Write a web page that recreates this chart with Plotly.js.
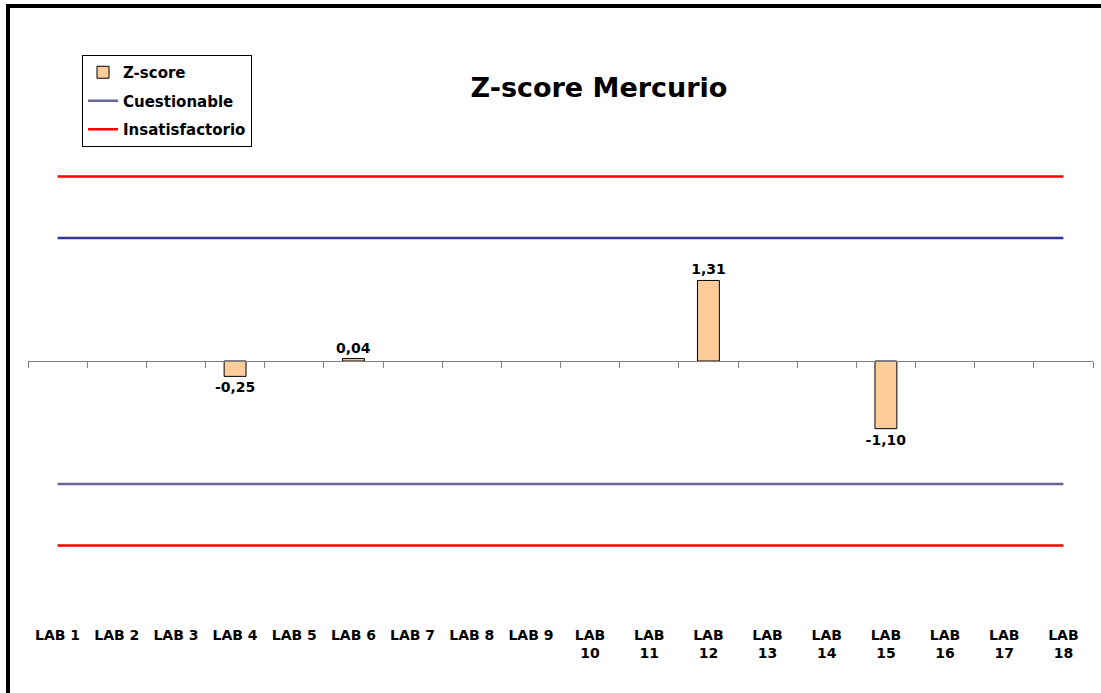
<!DOCTYPE html>
<html>
<head>
<meta charset="utf-8">
<script src="https://cdn.plot.ly/plotly-3.0.1.min.js"></script>
<style>html,body{margin:0;padding:0;background:#fff;overflow:hidden;}#chart{width:1101px;height:693px;}</style>
</head>
<body>
<div id="chart"></div>
<script>
// ---- data ----
const categories = ["LAB 1","LAB 2","LAB 3","LAB 4","LAB 5","LAB 6","LAB 7","LAB 8","LAB 9",
  "LAB 10","LAB 11","LAB 12","LAB 13","LAB 14","LAB 15","LAB 16","LAB 17","LAB 18"];
const tickLabels = ["LAB 1","LAB 2","LAB 3","LAB 4","LAB 5","LAB 6","LAB 7","LAB 8","LAB 9",
  "LAB<br>10","LAB<br>11","LAB<br>12","LAB<br>13","LAB<br>14","LAB<br>15","LAB<br>16","LAB<br>17","LAB<br>18"];
const zScores = [null,null,null,-0.25,null,0.04,null,null,null,null,null,1.31,null,null,-1.10,null,null,null];
const cuestionableUpper = [2, 2];
const cuestionableLower = [-2, -2];
const insatisfactorioUpper = [3, 3];
const insatisfactorioLower = [-3, -3];
const lineX = [categories[0], categories[categories.length - 1]];

// ---- layout helpers ----
const W = 1101, H = 693;
const M = {l: 28, r: 8, t: 100, b: 73};
const plotW = W - M.l - M.r, plotH = H - M.t - M.b;
const yRange = [-4.211, 4.244];
const px2x = p => (p - M.l) / plotW;
const px2y = p => (H - M.b - p) / plotH;
const zeroPos = (0 - yRange[0]) / (yRange[1] - yRange[0]);
const boundaries = [];
for (let i = 0; i <= categories.length; i++) boundaries.push(i - 0.5);

const FONT = "DejaVu Sans";

const traces = [
  {
    type: "bar", name: "Z-score", x: categories, y: zScores,
    marker: {color: "#FFCC99", line: {color: "#000000", width: 1}},
    texttemplate: "%{y:.2f}", textposition: "outside", cliponaxis: false,
    constraintext: "none",
    textfont: {family: FONT, size: 14, color: "#000000", weight: "bold"},
    hoverinfo: "skip", legendgroup: "a"
  },
  {
    type: "scatter", mode: "lines", name: "Cuestionable", x: lineX, y: cuestionableUpper,
    line: {color: "#333399", width: 2.5}, showlegend: false, hoverinfo: "skip"
  },
  {
    type: "scatter", mode: "lines", name: "Cuestionable", x: lineX, y: cuestionableLower,
    line: {color: "#666699", width: 2.5}, hoverinfo: "skip", legendgroup: "b"
  },
  {
    type: "scatter", mode: "lines", name: "Insatisfactorio", x: lineX, y: insatisfactorioUpper,
    line: {color: "#FF0000", width: 2.5}, hoverinfo: "skip", legendgroup: "c"
  },
  {
    type: "scatter", mode: "lines", name: "Insatisfactorio", x: lineX, y: insatisfactorioLower,
    line: {color: "#FF0000", width: 2.5}, showlegend: false, hoverinfo: "skip", legendgroup: "c"
  }
];

const layout = {
  width: W, height: H,
  margin: M,
  paper_bgcolor: "#ffffff", plot_bgcolor: "#ffffff",
  separators: ",.",
  font: {family: FONT, color: "#000000"},
  showlegend: true,
  bargap: 0.63,
  title: {
    text: "Z-score Mercurio",
    font: {family: FONT, size: 27, color: "#000000", weight: "bold"},
    x: 599 / W, xanchor: "center", xref: "container",
    y: 1 - 88 / H, yanchor: "middle", yref: "container"
  },
  xaxis: {
    type: "category", categoryorder: "array", categoryarray: categories,
    range: [-0.5, categories.length - 0.5],
    tickmode: "array", tickvals: categories, ticktext: tickLabels,
    ticks: "", showline: false, showgrid: false, zeroline: false,
    ticklabelstandoff: 5,
    tickfont: {family: FONT, size: 14, color: "#000000", weight: "bold"},
    fixedrange: true
  },
  xaxis2: {
    overlaying: "x", anchor: "free", position: zeroPos,
    range: [-0.5, categories.length - 0.5],
    tickmode: "array", tickvals: boundaries,
    ticks: "outside", ticklen: 6, tickcolor: "#808080", tickwidth: 1,
    showticklabels: false, showline: true, linecolor: "#808080", linewidth: 1,
    showgrid: false, zeroline: false, fixedrange: true
  },
  yaxis: {
    range: yRange, visible: true, showticklabels: false, ticks: "",
    showgrid: false, zeroline: false, showline: false, fixedrange: true
  },
  legend: {
    x: px2x(82), y: px2y(55), xanchor: "left", yanchor: "top",
    bgcolor: "#ffffff", bordercolor: "#000000", borderwidth: 1,
    font: {family: FONT, size: 15, color: "#000000", weight: "bold"},
    traceorder: "grouped", tracegroupgap: 6, itemwidth: 30
  },
  shapes: [
    {type: "line", xref: "paper", yref: "paper",
     x0: px2x(8), x1: px2x(8), y0: px2y(900), y1: px2y(4),
     line: {color: "#000000", width: 4}, layer: "above"},
    {type: "line", xref: "paper", yref: "paper",
     x0: px2x(6), x1: px2x(1300), y0: px2y(6), y1: px2y(6),
     line: {color: "#000000", width: 4}, layer: "above"}
  ]
};

// invisible helper so the overlay axis is drawn
traces.push({type: "scatter", mode: "lines", x: [], y: [], xaxis: "x2", yaxis: "y",
  showlegend: false, hoverinfo: "skip"});

Plotly.newPlot("chart", traces, layout, {displayModeBar: false, staticPlot: true});
</script>
</body>
</html>
